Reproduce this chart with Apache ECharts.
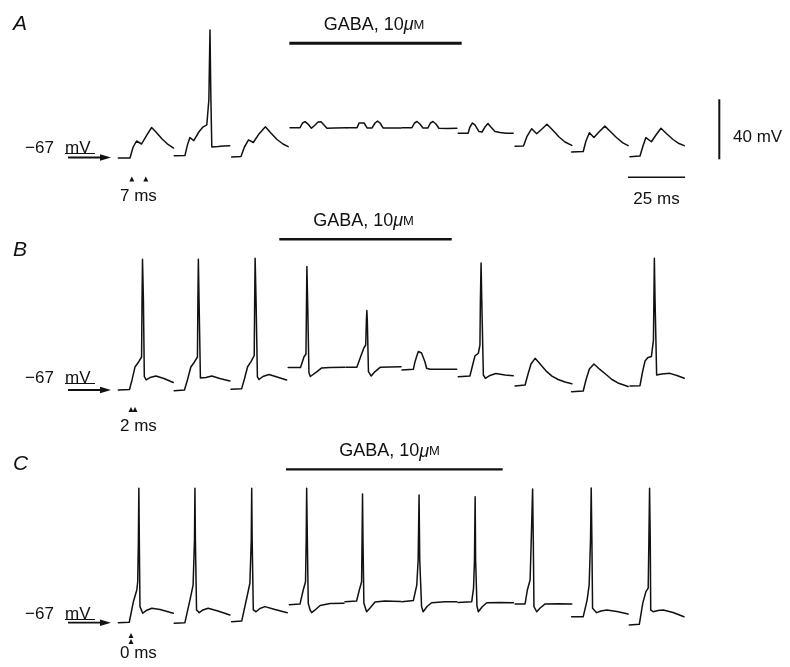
<!DOCTYPE html>
<html>
<head>
<meta charset="utf-8">
<script src="https://cdn.jsdelivr.net/npm/echarts@6/dist/echarts.min.js"></script>
<style>
html,body{margin:0;padding:0;background:#fff;}
#c{width:790px;height:667px;}
</style>
</head>
<body>
<div id="c"></div>
<script>
// ---------- data (time in ms from sweep start, membrane potential in mV) ----------
const restingMv = -67;
const scaleBarMs = 25;
const scaleBarMv = 40;
const panelLabels = ['A', 'B', 'C'];
const intervalLabels = ['7 ms', '2 ms', '0 ms'];
const restLabel = '\u221267';
const restUnit = 'mV';

// display start (ms) of each sweep
const sweepStartA = [51.9, 76.4, 101.6, 127.2, 152.2, 176.3, 201.0, 225.9, 250.7, 276.3];
const sweepStartB = [51.9, 76.4, 101.3, 126.4, 151.8, 176.3, 201.0, 225.9, 250.7, 276.3];
const sweepStartC = [51.9, 76.4, 101.6, 126.9, 151.3, 176.3, 200.9, 225.9, 250.7, 276.0];

// panel A: paired stimuli 7 ms apart
const sweepsA = [
  [[0,-67.3],[5.1,-67.3],[6.5,-60],[8,-56],[10.2,-58],[12.2,-52.7],[14.6,-47],[16.5,-50],[19.2,-54.7],[21.8,-58.3],[24.2,-60.7]],
  [[0,-65.8],[4.7,-65.7],[5.8,-58.7],[6.9,-53.7],[8.6,-55.7],[10.8,-50],[12.6,-46.7],[14.3,-45.3],[15.2,-28.7],[15.7,18],[16.1,-28.7],[16.5,-60],[17.1,-61],[19.2,-59.7],[21.8,-59.3],[24.4,-59.1]],
  [[0,-66.7],[4.1,-66.3],[5.6,-60],[7.4,-55.3],[9.5,-57],[12,-51.3],[14.8,-46.5],[17.2,-50.7],[19.9,-55],[22.5,-58],[24.8,-59.8]],
  [[0,-47.1],[4.4,-47.1],[5.5,-44],[6.6,-43.1],[7.9,-44.7],[9.4,-47.5],[11,-45.3],[12.3,-43.3],[13.6,-43.1],[14.9,-45.3],[16.2,-47.5],[19.7,-47.3],[25,-47.1]],
  [[0,-47.1],[4.4,-47.1],[5.3,-44],[6.1,-42.7],[7.5,-44],[8.8,-47.3],[11,-47.3],[12.3,-44],[13.4,-42.7],[14.5,-44],[15.8,-47.3],[19.7,-47.3],[23.7,-47.3]],
  [[0,-47.1],[4.4,-47.1],[5.5,-44],[6.6,-43],[7.9,-44.7],[9.2,-47.3],[11.4,-47.3],[12.5,-44],[13.6,-43],[14.9,-44.7],[16.2,-47.5],[20.2,-47.7],[24.1,-47.5]],
  [[0,-50.9],[4.3,-50.9],[5.1,-46.7],[6.2,-44],[7.3,-45.3],[9.1,-49.7],[10.4,-50],[11.7,-46.7],[13,-44.3],[14.3,-46.7],[16.1,-49.7],[18.3,-50.3],[20.9,-50.9],[24.1,-50.9]],
  [[0,-59.5],[3.7,-59.3],[5.3,-52.7],[7.3,-47.8],[9.5,-51.2],[11.8,-48],[14,-44.8],[16.7,-49],[19.3,-53.3],[21.9,-56.7],[24.9,-58.9]],
  [[0,-63.3],[5.1,-63],[6.3,-56],[7.8,-50.5],[9.8,-53.7],[12,-50],[14.6,-46.1],[17.2,-50],[19.9,-54],[22.5,-57.3],[24.8,-59.1]],
  [[0,-66.5],[4.4,-66],[5.7,-59.3],[7,-53.7],[9.4,-56.5],[11.4,-52],[13.6,-47.5],[16.2,-51.3],[18.9,-55],[21.5,-57.7],[23.8,-59.1]]
];

// panel B: paired stimuli 2 ms apart
const sweepsB = [
  [[0,-67],[4.9,-66.7],[6,-60.3],[7.3,-51.7],[8.9,-48.3],[10.2,-45],[10.4,-7],[10.6,20.1],[11,-7],[11.4,-58],[12.2,-60.3],[13.9,-58.7],[16.5,-57.7],[20,-59.3],[24.1,-62]],
  [[0,-67.5],[4.5,-67],[5.8,-60.3],[7.3,-51.7],[8.9,-48.3],[10.2,-45],[10.4,-7],[10.6,20.1],[10.9,-7],[11.5,-59],[12.2,-60.3],[13.9,-58.7],[16.5,-57.7],[20,-59.3],[24.4,-61]],
  [[0,-66.5],[4.7,-66.1],[5.9,-59.7],[7.3,-51.5],[8.8,-48.1],[10.2,-44],[10.4,-7],[10.6,20.8],[11,-7],[11.6,-58.3],[12.3,-60],[14,-58],[16.7,-56.7],[20.2,-58.3],[24.4,-60.3]],
  [[0,-52],[5.4,-52],[6.2,-48.3],[6.9,-45],[7.8,-43],[8,-13.7],[8.2,15.3],[8.6,-13.7],[9.1,-55.5],[9.7,-58],[10.5,-58.5],[12.2,-55.3],[14.7,-52.3],[18.3,-52],[24.9,-51.9]],
  [[0,-51.9],[4.7,-51.9],[5.7,-47.7],[6.8,-43],[7.7,-39.3],[8.6,-37],[8.9,-20.3],[9.1,-14],[9.3,-20.3],[9.8,-54.8],[11,-57.7],[12.7,-54.7],[14.9,-51.9],[19.3,-51.7],[24.1,-51.5]],
  [[0,-53.7],[5,-53.2],[5.7,-48.3],[6.5,-44.3],[7.2,-41.3],[7.9,-40.7],[8.6,-42.3],[9.3,-43.3],[10.1,-48.3],[10.8,-52.5],[12.3,-53.2],[18.9,-53.2],[24,-53.2]],
  [[0,-58.1],[5.1,-57.7],[6.2,-51],[7.3,-44.3],[8.8,-42.5],[9.5,-37],[9.7,-7],[10,17.7],[10.3,-7],[11,-57],[11.9,-59.2],[13.9,-57.3],[16.5,-56],[20.5,-57],[24.1,-57.5]],
  [[0,-64.3],[4.4,-63.7],[5.7,-56.3],[7,-49.7],[8.8,-45.9],[11,-49.7],[13.9,-54.8],[16.2,-57.7],[18.9,-60],[21.9,-61.7],[24.9,-62.8]],
  [[0,-68.1],[5.1,-67.7],[6.3,-60.3],[7.8,-53],[9.8,-49.7],[12.4,-53.3],[15.4,-57],[17.7,-60],[20.3,-62.3],[24.8,-64.7]],
  [[0,-64.3],[4.4,-64.1],[5.5,-55],[6.6,-47.7],[7.9,-45.3],[9.4,-44.7],[10.3,-33.7],[10.5,-7],[10.7,20.8],[11,-7],[11.7,-57],[13.9,-56.3],[17.5,-55.9],[20.6,-57.3],[23.8,-59.2]]
];

// panel C: single stimulus (0 ms)
const sweepsC = [
  [[0,-67],[4.8,-66.7],[6.6,-53],[8.1,-45.2],[8.5,-39.7],[8.8,-11.9],[9,22.6],[9.2,-11.9],[9.5,-56.3],[10.7,-60.7],[12.2,-58.9],[14.7,-57.4],[18.3,-58.2],[24.1,-60.7]],
  [[0,-67.4],[4.7,-67],[6.9,-51.9],[8.3,-41.9],[8.9,-11.9],[9.1,22.6],[9.3,-11.9],[9.8,-58.5],[11,-60.3],[12.6,-58.5],[14.9,-57.4],[19.2,-59.2],[24.4,-61.9]],
  [[0,-66.3],[4.4,-65.9],[6.6,-50.7],[8,-40.7],[8.6,-11.9],[8.8,22.6],[9,-11.9],[9.5,-58.5],[10.7,-59.7],[12.4,-57.5],[14.6,-56.3],[19,-58.2],[24.4,-60.3]],
  [[0,-55],[4.7,-54.5],[6.1,-45.2],[7.1,-39.7],[7.4,-11.9],[7.6,22.6],[7.9,-11.9],[8.3,-54.1],[9.1,-58.5],[9.8,-60.3],[11.3,-58.5],[13.5,-55.5],[17.9,-54.2],[24,-54.1]],
  [[0,-53],[5.1,-52.5],[6.3,-45.2],[7.3,-39.7],[7.5,-11.9],[7.7,18.8],[7.9,-11.9],[8.3,-54.1],[9.5,-59.7],[11,-57.2],[13.2,-53.2],[17.5,-52.5],[24.6,-52.9]],
  [[0,-53],[5,-52.2],[6.5,-41.9],[7.1,-25.2],[7.5,18.1],[7.8,-25.2],[8.6,-56.3],[9.3,-59.7],[11,-56.2],[13,-53.7],[18.9,-53],[24.1,-53]],
  [[0,-53.5],[6,-53],[6.8,-43.9],[7.2,-25.2],[7.5,17],[7.7,-25.2],[8.3,-55.9],[8.9,-59.7],[10.5,-56.5],[12.6,-53.7],[18.4,-53.5],[24.3,-53.7]],
  [[0,-54.5],[4.4,-54.5],[5.4,-45.2],[6.6,-38.5],[7.1,-11.9],[7.7,22.1],[8,-11.9],[8.3,-56.3],[9.5,-59.7],[11,-57.2],[13.2,-54.5],[18.9,-54.3],[24.9,-54.5]],
  [[0,-63],[5.1,-63],[6.8,-51.9],[7.7,-41.9],[8.3,-11.9],[8.6,22.8],[8.9,-11.9],[9.2,-57.4],[11,-60.3],[12.9,-59.2],[15.4,-58.5],[19.9,-59.5],[24.8,-61.2]],
  [[0,-68.5],[4.4,-68.1],[5.9,-54.1],[7.3,-46.3],[8.3,-43.9],[8.6,-11.9],[8.9,22.6],[9.2,-11.9],[9.4,-58.5],[10.5,-59.7],[12.6,-58.9],[14.9,-58.5],[19.2,-60.2],[24,-63]]
];

// ---------- layout ----------
const W = 790, H = 667;
const PX_PER_MS = 2.28;
const PX_PER_MV = 1.5;
const FONT = '"Liberation Sans", Arial, Helvetica, sans-serif';
const INK = '#111';
const panels = [
  {top: 0,   height: 222, restY: 157.5, starts: sweepStartA, sweeps: sweepsA},
  {top: 222, height: 216, restY: 390,   starts: sweepStartB, sweeps: sweepsB},
  {top: 438, height: 229, restY: 622.7, starts: sweepStartC, sweeps: sweepsC}
];

const grid = [], xAxis = [], yAxis = [], series = [];
panels.forEach((p, i) => {
  grid.push({left: 0, width: W, top: p.top, height: p.height, containLabel: false});
  xAxis.push({type: 'value', gridIndex: i, min: 0, max: W / PX_PER_MS, show: false});
  const yMax = restingMv + (p.restY - p.top) / PX_PER_MV;
  yAxis.push({type: 'value', gridIndex: i, min: yMax - p.height / PX_PER_MV, max: yMax, show: false});
  p.sweeps.forEach((sw, j) => {
    series.push({
      type: 'line', xAxisIndex: i, yAxisIndex: i,
      data: sw.map(([t, v]) => [p.starts[j] + t, v]),
      showSymbol: false, symbol: 'none', clip: false, silent: true,
      lineStyle: {color: INK, width: 1.5, join: 'round', cap: 'round'},
      animation: false
    });
  });
});

const chart = echarts.init(document.getElementById('c'), null, {renderer: 'canvas', width: W, height: H});
chart.setOption({backgroundColor: '#fff', animation: false, grid, xAxis, yAxis, series});

// ---------- annotations ----------
function text(x, y, str, size, align, extra) {
  return {type: 'text', silent: true, style: Object.assign({
    text: str, x, y, fill: INK, fontFamily: FONT, fontSize: size,
    align: align || 'left', verticalAlign: 'middle'
  }, extra || {})};
}
function line(x1, y1, x2, y2, w) {
  return {type: 'line', silent: true, shape: {x1, y1, x2, y2}, style: {stroke: INK, lineWidth: w}};
}
function tri(cx, cy, s) {
  return {type: 'polygon', silent: true, shape: {points: [[cx - s / 2, cy + s / 2], [cx + s / 2, cy + s / 2], [cx, cy - s / 2]]}, style: {fill: INK}};
}
function gabaText(cx, cy) {
  return text(cx, cy, 'GABA, 10{mu|\u03bc}{m|M}', 18, 'center', {
    rich: {
      mu: {fontFamily: FONT, fontSize: 18, fontStyle: 'italic', fill: INK},
      m: {fontFamily: FONT, fontSize: 13, fill: INK}
    }
  });
}

const labelY = [24, 250, 464];
const gabaTxt = [[374, 25], [363.5, 221], [389.5, 451.5]];
const gabaBar = [[289.3, 461.7, 43.3, 3], [279.3, 451.7, 239.3, 2.4], [286, 502.7, 469.3, 2.2]];
const restTextY = [148, 378, 614];
const trianglePos = [[[131.8, 179], [145.8, 179]], [[131, 409.5], [135, 409.5]], [[131, 635.5], [131, 641.5]]];
const intervalY = [196.7, 426.7, 653];

const g = [];
panels.forEach((p, i) => {
  g.push(text(13, labelY[i], panelLabels[i], 21, 'left', {fontStyle: 'italic'}));
  g.push(gabaText(gabaTxt[i][0], gabaTxt[i][1]));
  const b = gabaBar[i];
  g.push(line(b[0], b[2], b[1], b[2], b[3]));
  g.push(text(25, restTextY[i], restLabel, 17, 'left'));
  g.push(text(65, restTextY[i], restUnit, 17, 'left'));
  g.push(line(65, restTextY[i] + 5.5, 95, restTextY[i] + 5.5, 1));
  const ry = chart.convertToPixel({xAxisIndex: i, yAxisIndex: i}, [0, restingMv])[1];
  g.push(line(68, ry, 103, ry, 1.8));
  g.push({type: 'polygon', silent: true, shape: {points: [[100, ry - 3.2], [111, ry], [100, ry + 3.2]]}, style: {fill: INK}});
  trianglePos[i].forEach(([x, y]) => g.push(tri(x, y, 5)));
  g.push(text(120, intervalY[i], intervalLabels[i], 17, 'left'));
});

// scale bars (lengths from the axes of panel A)
const p0 = chart.convertToPixel({xAxisIndex: 0, yAxisIndex: 0}, [0, 0]);
const p1 = chart.convertToPixel({xAxisIndex: 0, yAxisIndex: 0}, [scaleBarMs, scaleBarMv]);
const barMsPx = p1[0] - p0[0];
const barMvPx = p0[1] - p1[1];
g.push(line(719.3, 99.3, 719.3, 99.3 + barMvPx, 2));
g.push(text(733, 137, scaleBarMv + ' mV', 17, 'left'));
g.push(line(628, 177.3, 628 + barMsPx, 177.3, 1.6));
g.push(text(628 + barMsPx / 2, 199.3, scaleBarMs + ' ms', 17, 'center'));

chart.setOption({graphic: {elements: g}});
</script>
</body>
</html>
